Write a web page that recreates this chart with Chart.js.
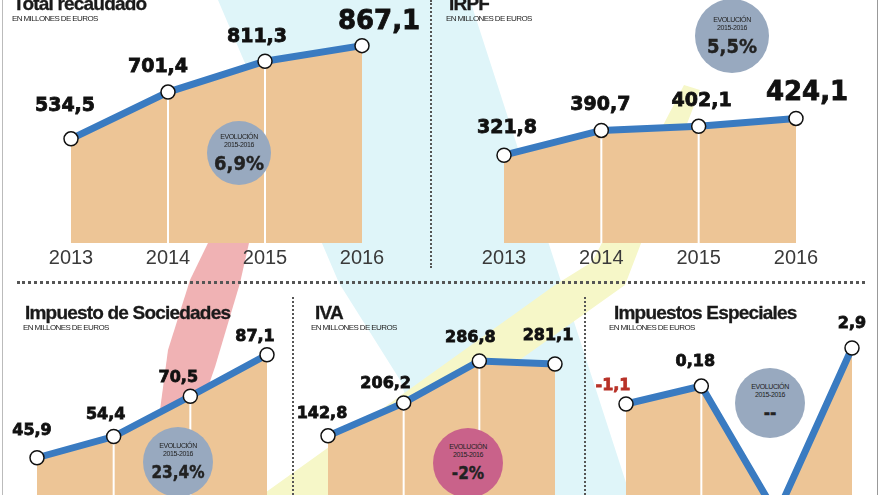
<!doctype html>
<html>
<head>
<meta charset="utf-8">
<title>Recaudación 2013-2016</title>
<script src="https://cdn.jsdelivr.net/npm/chart.js@4.4.9/dist/chart.umd.min.js"></script>
<style>
body { margin: 0; width: 880px; height: 495px; overflow: hidden; background: #fff; position: relative; font-family: "Liberation Sans", Arial, sans-serif; }
.box { position: absolute; }
.bands { position: absolute; left: 0; top: 0; }
.title { position: absolute; font-weight: bold; font-size: 19px; line-height: 1; color: #1a1a1a; white-space: nowrap; letter-spacing: -0.8px; -webkit-text-stroke: 0.3px #1a1a1a; }
.sub { position: absolute; font-size: 8px; line-height: 1; color: #222; letter-spacing: -0.6px; white-space: nowrap; }
.badge { position: absolute; border-radius: 50%; color: #222; display: flex; flex-direction: column; justify-content: center; align-items: center; text-align: center; }
.badge small { font-size: 7px; line-height: 8px; letter-spacing: -0.4px; }
.badge b { font-family: "DejaVu Sans Condensed", "DejaVu Sans"; font-size: 20px; line-height: 20px; margin-top: 4px; -webkit-text-stroke: 0.4px #222; }
.vdots { position: absolute; border-left: 2px dotted #555; }
.hdots { position: absolute; border-top: 3px dotted #555; }
</style>
<script>
// datos (millones de euros)
const years = ['2013', '2014', '2015', '2016'];
const totalValues = [534.5, 701.4, 811.3, 867.1];
const irpfValues = [321.8, 390.7, 402.1, 424.1];
const sociedadesValues = [45.9, 54.4, 70.5, 87.1];
const ivaValues = [142.8, 206.2, 286.8, 281.1];
const especialesValues = [-1.1, 0.18, -9, 2.9];   // 2015 queda fuera del recorte
const evolucion = ['6,9%', '5,5%', '23,4%', '-2%', '--'];

const fmt = v => String(v).replace('.', ',');

const marks = {
  id: 'marks',
  beforeDatasetsDraw(chart) {
    // white dividers under the line, on top of the fill
    const ctx = chart.ctx, area = chart.chartArea;
    const pts = chart.getDatasetMeta(0).data;
    ctx.save();
    ctx.strokeStyle = '#fff';
    ctx.lineWidth = 2;
    pts.forEach((pt, i) => {
      if (i === 0 || i === pts.length - 1 || pt.y > area.bottom) return;
      ctx.beginPath();
      ctx.moveTo(pt.x, pt.y);
      ctx.lineTo(pt.x, area.bottom);
      ctx.stroke();
    });
    ctx.restore();
  },
  afterDatasetsDraw(chart, args, opts) {
    const ctx = chart.ctx, area = chart.chartArea;
    const pts = chart.getDatasetMeta(0).data;
    const vals = chart.data.datasets[0].data;
    ctx.save();
    ctx.textAlign = 'center';
    ctx.textBaseline = 'middle';
    ctx.lineWidth = 0.8;
    pts.forEach((pt, i) => {
      if (pt.y > area.bottom) return;
      const off = opts.offsets[i];
      const col = vals[i] < 0 ? '#b83228' : '#111';
      ctx.font = 'bold ' + opts.sizes[i] + 'px "DejaVu Sans"';
      ctx.fillStyle = col;
      ctx.strokeStyle = col;
      ctx.fillText(fmt(vals[i]), pt.x + off[0], pt.y + off[1]);
      ctx.strokeText(fmt(vals[i]), pt.x + off[0], pt.y + off[1]);
    });
    ctx.restore();
  }
};

function draw(id, values, o) {
  new Chart(document.getElementById(id), {
    type: 'line',
    data: {
      labels: years,
      datasets: [{
        data: values,
        borderColor: '#3a7bc1',
        borderWidth: 7,
        backgroundColor: '#edc596',
        fill: 'start',
        tension: 0,
        pointRadius: 7,
        pointBackgroundColor: '#fff',
        pointBorderColor: '#111',
        pointBorderWidth: 1.5
      }]
    },
    options: {
      responsive: false,
      animation: false,
      devicePixelRatio: 1,
      layout: { autoPadding: false, padding: { left: o.padL, right: o.padR, top: 0, bottom: 0 } },
      scales: {
        x: {
          display: o.showYears,
          offset: false,
          grid: { display: false, drawTicks: false },
          border: { display: false },
          ticks: { padding: 3, color: '#3a3a3a', font: { family: 'Liberation Sans', size: 20 } }
        },
        y: { display: false, min: o.min, max: o.max }
      },
      plugins: {
        legend: { display: false },
        tooltip: { enabled: false },
        filler: { drawTime: 'beforeDatasetsDraw' },
        marks: { offsets: o.offsets, sizes: o.sizes }
      }
    },
    plugins: [marks]
  });
}

window.onload = () => {
  draw('total', totalValues, {
    padL: 71, padR: 68, min: 162.5, max: 1030, showYears: true,
    offsets: [[-6, -33], [-10, -25], [-8, -24], [17, -23]], sizes: [19, 19, 19, 26]
  });
  draw('irpf', irpfValues, {
    padL: 74, padR: 84, min: 78, max: 753, showYears: true,
    offsets: [[3, -27], [-1, -25], [3, -25], [11, -25]], sizes: [19, 19, 19, 26]
  });
  draw('sociedades', sociedadesValues, {
    padL: 37, padR: 26, min: 31, max: 115, showYears: false,
    offsets: [[-5, -27], [-8, -22], [-12, -18], [-12, -18]], sizes: [16, 16, 16, 16]
  });
  draw('iva', ivaValues, {
    padL: 35, padR: 30, min: 29, max: 433, showYears: false,
    offsets: [[-6, -22], [-18, -19], [-9, -23], [-7, -28]], sizes: [16, 16, 16, 16]
  });
  draw('especiales', especialesValues, {
    padL: 41, padR: 28, min: -7.6, max: 7.4, showYears: false,
    offsets: [[-13, -18], [-6, -24], [0, 0], [0, -24]], sizes: [16, 16, 16, 16]
  });
  document.querySelectorAll('.badge b').forEach((el, i) => { el.textContent = evolucion[i]; });
};
</script>
</head>
<body>
<svg class="bands" width="880" height="495">
  <polygon points="218,0 470,0 630,495 440,495 400,380 339,283" fill="#dff5f9"/>
  <polygon points="684,85 700,90 625,285 330,495 262,495 555,285 592,262" fill="#f6f7c8"/>
  <polygon points="208,243 249,243 240,283 215,367 200,410 160,410 168,350 190,280" fill="#f0b2b4"/>
</svg>

<div style="position:absolute;left:2px;top:0;width:1px;height:495px;background:#bbb"></div>
<div style="position:absolute;left:877px;top:0;width:1px;height:495px;background:#999"></div>
<div class="vdots" style="left:430px;top:0;height:268px"></div>
<div class="hdots" style="left:17px;top:281px;width:848px"></div>
<div class="vdots" style="left:292px;top:297px;height:198px"></div>
<div class="vdots" style="left:584px;top:297px;height:198px"></div>

<canvas class="box" id="total" width="430" height="273" style="left:0;top:0"></canvas>
<canvas class="box" id="irpf" width="450" height="273" style="left:430px;top:0"></canvas>
<canvas class="box" id="sociedades" width="293" height="210" style="left:0;top:285px"></canvas>
<canvas class="box" id="iva" width="292" height="210" style="left:293px;top:285px"></canvas>
<canvas class="box" id="especiales" width="295" height="210" style="left:585px;top:285px"></canvas>

<div class="title" style="left:13px;top:-6px">Total recaudado</div>
<div class="sub" style="left:12px;top:15px">EN MILLONES DE EUROS</div>
<div class="title" style="left:449px;top:-6px">IRPF</div>
<div class="sub" style="left:446px;top:15px">EN MILLONES DE EUROS</div>
<div class="title" style="left:25px;top:303px">Impuesto de Sociedades</div>
<div class="sub" style="left:23px;top:324px">EN MILLONES DE EUROS</div>
<div class="title" style="left:315px;top:303px">IVA</div>
<div class="sub" style="left:311px;top:324px">EN MILLONES DE EUROS</div>
<div class="title" style="left:614px;top:303px">Impuestos Especiales</div>
<div class="sub" style="left:609px;top:324px">EN MILLONES DE EUROS</div>

<div class="badge" style="left:207px;top:121px;width:64px;height:64px;background:#98a9bf"><small>EVOLUCIÓN</small><small>2015-2016</small><b></b></div>
<div class="badge" style="left:695px;top:-1px;width:74px;height:74px;background:#98a9bf"><small>EVOLUCIÓN</small><small>2015-2016</small><b></b></div>
<div class="badge" style="left:143px;top:427px;width:70px;height:70px;background:#98a9bf"><small>EVOLUCIÓN</small><small>2015-2016</small><b style="font-size:17px"></b></div>
<div class="badge" style="left:433px;top:428px;width:70px;height:70px;background:#c9628a"><small>EVOLUCIÓN</small><small>2015-2016</small><b style="font-size:17px"></b></div>
<div class="badge" style="left:735px;top:368px;width:70px;height:70px;background:#98a9bf"><small>EVOLUCIÓN</small><small>2015-2016</small><b style="font-size:17px"></b></div>
</body>
</html>
